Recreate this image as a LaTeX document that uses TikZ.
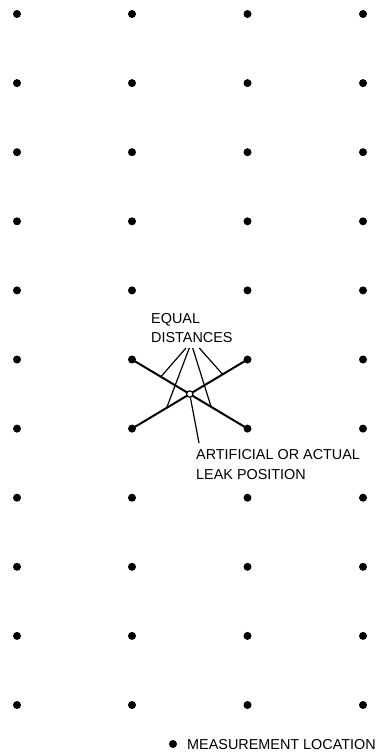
\documentclass[tikz,border=0pt]{standalone}
\usepackage{fontspec}
\setmainfont{Liberation Sans}
\usetikzlibrary{calc}
\begin{document}
\begin{tikzpicture}[x=1pt,y=-1pt,
  dotnode/.style={circle,fill=black,inner sep=0pt,minimum size=8pt},
  leakmark/.style={circle,draw=black,fill=white,line width=1.2pt,inner sep=0pt,minimum size=6.4pt},
  label/.style={anchor=base west,inner sep=0pt,font=\fontsize{14.4}{20}\selectfont,text=black},
  xline/.style={line width=2pt},
  leader/.style={line width=1.2pt}]
\useasboundingbox (0,0) rectangle (379,754);
% grid of measurement locations
\foreach \i in {0,...,10}{
  \foreach \j/\x in {1/17,2/132,3/247.5,4/363}{
    \node[dotnode] (d\i-\j) at (\x,{14+69.1*\i}) {};
  }
}
% crossing lines
\draw[xline] (d5-2.center) -- (d6-3.center);
\draw[xline] (d6-2.center) -- (d5-3.center);
\node[leakmark] (leak) at ($(d5-2.center)!0.5!(d6-3.center)$) {};
% labels
\node[label] (eq1) at (151,323) {EQUAL};
\node[label] (eq2) at (151,342.5) {DISTANCES};
\node[label] (art1) at (196,459) {ARTIFICIAL OR ACTUAL};
\node[label] (art2) at (196,479) {LEAK POSITION};
\node[dotnode] (legdot) at (173,744) {};
\node[label] (leg) at (187,749.5) {MEASUREMENT LOCATION};
% leader lines
\coordinate (t1) at (186,348);
\coordinate (t2) at (189.3,348);
\coordinate (t3) at (192.7,348);
\coordinate (t4) at (199.3,348);
\draw[leader] (t1) -- ($(leak.center)!0.5!(d5-2.center)$);
\draw[leader] (t2) -- ($(leak.center)!0.4!(d6-2.center)$);
\draw[leader] (t3) -- ($(leak.center)!0.37!(d6-3.center)$);
\draw[leader] (t4) -- ($(leak.center)!0.57!(d5-3.center)$);
\coordinate (a1) at (199,443);
\draw[leader] (leak) -- (a1);
\end{tikzpicture}
\end{document}
